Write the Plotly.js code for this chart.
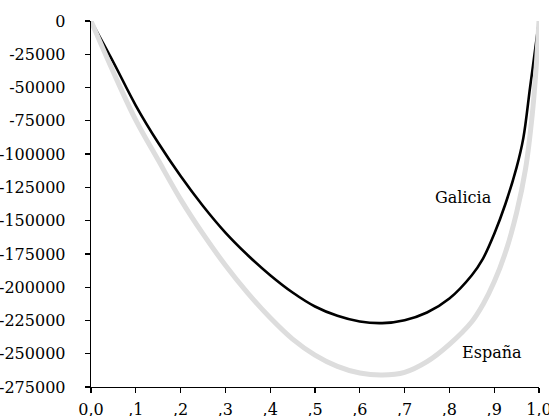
<!DOCTYPE html>
<html>
<head>
<meta charset="utf-8">
<script src="https://cdn.plot.ly/plotly-3.0.1.min.js"></script>
<style>html,body{margin:0;padding:0;background:#fff;}#chart{width:549px;height:416px;}</style>
</head>
<body>
<div id="chart"></div>
<script>
// Galicia curve
var galiciaX = [0, 0.05, 0.1, 0.15, 0.2, 0.25, 0.3, 0.35, 0.4, 0.45, 0.5, 0.55, 0.6, 0.65, 0.7, 0.75, 0.8, 0.85, 0.875, 0.9, 0.925, 0.95, 0.965, 0.98, 0.99, 1.0];
var galiciaY = [0, -31000, -63500, -91500, -116500, -139000, -159000, -176000, -191000, -204000, -214500, -221500, -225800, -227000, -224800, -219000, -208500, -191000, -178500, -160000, -137500, -110000, -88000, -50000, -25000, 0];
// España curve
var espanaX = [0, 0.05, 0.1, 0.15, 0.2, 0.25, 0.3, 0.35, 0.4, 0.45, 0.5, 0.55, 0.6, 0.65, 0.7, 0.75, 0.8, 0.85, 0.875, 0.9, 0.925, 0.95, 0.97, 0.985, 0.993, 1.0];
var espanaY = [0, -38500, -74500, -104500, -134000, -160000, -183500, -204500, -223000, -239000, -251000, -259500, -264500, -266000, -264000, -256000, -243000, -226000, -213000, -196000, -174000, -144000, -111000, -70000, -38000, 0];
// Tick labels
var xTickVals = [0, 0.1, 0.2, 0.3, 0.4, 0.5, 0.6, 0.7, 0.8, 0.9, 1.0];
var xTickText = ["0,0", ",1", ",2", ",3", ",4", ",5", ",6", ",7", ",8", ",9", "1,0"];
var yTickVals = [0, -25000, -50000, -75000, -100000, -125000, -150000, -175000, -200000, -225000, -250000, -275000];
var yTickText = ["0", "-25000", "-50000", "-75000", "-100000", "-125000", "-150000", "-175000", "-200000", "-225000", "-250000", "-275000"];
var seriesNames = ["Galicia", "España"];

var font = {family: "DejaVu Serif, serif", size: 16, color: "#000"};

var traces = [
  {x: galiciaX, y: galiciaY, name: seriesNames[0], mode: "lines", line: {color: "#000000", width: 2.6, shape: "spline", smoothing: 1}, hoverinfo: "skip"},
  {x: espanaX, y: espanaY, name: seriesNames[1], mode: "lines", line: {color: "#dddddd", width: 5, shape: "spline", smoothing: 1}, hoverinfo: "skip"}
];

var layout = {
  width: 549, height: 416,
  margin: {l: 91, r: 10, t: 20.7, b: 29, pad: 0},
  paper_bgcolor: "#fff", plot_bgcolor: "#fff",
  showlegend: false,
  font: font,
  xaxis: {
    range: [0, 1], tickmode: "array", tickvals: xTickVals, ticktext: xTickText,
    showgrid: false, zeroline: false, showline: true, linecolor: "#000", linewidth: 1.3,
    ticks: "outside", ticklen: 5, tickwidth: 1.3, tickcolor: "#000", tickfont: font,
    ticklabeloverflow: "allow", ticklabelstandoff: 2
  },
  yaxis: {
    range: [-275000, 0], tickmode: "array", tickvals: yTickVals, ticktext: yTickText,
    showgrid: false, zeroline: false, showline: true, linecolor: "#000", linewidth: 1.3,
    ticks: "outside", ticklen: 5, tickwidth: 1.3, tickcolor: "#000", tickfont: font,
    ticklabelstandoff: 16, ticklabeloverflow: "allow"
  },
  annotations: [
    {x: 0.832, y: -132700, text: seriesNames[0], showarrow: false, font: font, xanchor: "center", yanchor: "middle"},
    {x: 0.894, y: -249000, text: seriesNames[1], showarrow: false, font: font, xanchor: "center", yanchor: "middle"}
  ]
};

Plotly.newPlot("chart", traces, layout, {staticPlot: true, displayModeBar: false});
</script>
</body>
</html>
